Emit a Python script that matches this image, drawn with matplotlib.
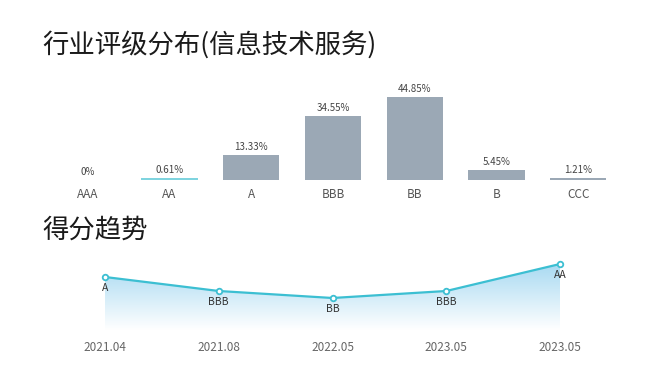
import numpy as np
import matplotlib
matplotlib.use("Agg")
import matplotlib.pyplot as plt
from matplotlib.colors import LinearSegmentedColormap
from matplotlib.path import Path
from matplotlib.patches import PathPatch

plt.rcParams['font.family'] = ['Noto Sans CJK SC', 'DejaVu Sans']

categories = ["AAA", "AA", "A", "BBB", "BB", "B", "CCC"]
shares = [0, 0.61, 13.33, 34.55, 44.85, 5.45, 1.21]
share_labels = ["0%", "0.61%", "13.33%", "34.55%", "44.85%", "5.45%", "1.21%"]
highlight = "AA"

dates = ["2021.04", "2021.08", "2022.05", "2023.05", "2023.05"]
ratings = ["A", "BBB", "BB", "BBB", "AA"]
scores = [53, 39, 32, 39, 66]

W, H = 668, 384
fig = plt.figure(figsize=(W/100, H/100), dpi=100)

def px_axes(x0, y0, x1, y1):
    return fig.add_axes([x0/W, 1 - y1/H, (x1-x0)/W, (y1-y0)/H])

fig.text(42/W, 1 - 45/H, "行业评级分布(信息技术服务)", fontsize=19, color="#1a1a1a",
         va="center", ha="left")
fig.text(42/W, 1 - 230/H, "得分趋势", fontsize=19, color="#1a1a1a",
         va="center", ha="left")

# Bar chart
ax = px_axes(47, 90, 619, 180)
x = np.arange(len(categories))
colors = ["#7fd4df" if c == highlight else "#9ba8b5" for c in categories]
heights = [max(v, 1.2) if 0 < v < 1.2 else v for v in shares]
ax.bar(x, heights, width=0.69, color=colors)
for xi, v, lab in zip(x, heights, share_labels):
    ax.text(xi, v + 1.6, lab, ha="center", va="bottom", fontsize=7, color="#444444")
ax.set_xlim(-0.5, len(categories) - 0.5)
ax.set_ylim(0, 90/1.85)
ax.set_xticks(x)
ax.set_xticklabels(categories, fontsize=8.5, color="#555555")
ax.tick_params(axis="x", length=0, pad=6)
ax.set_yticks([])
for s in ax.spines.values():
    s.set_visible(False)

# Line chart
ax2 = px_axes(105, 255, 560, 330)
xi = np.arange(len(dates))
ax2.set_xlim(0, len(dates) - 1)
ax2.set_ylim(0, 75)
cmap = LinearSegmentedColormap.from_list("g", ["#a9daf2", "#ffffff"])
grad = np.linspace(1, 0, 256).reshape(-1, 1)  # row0 (bottom) white, top blue
im = ax2.imshow(grad, cmap=cmap, vmin=0, vmax=1, aspect="auto",
                extent=[0, len(dates)-1, 0, max(scores)], origin="lower", zorder=1)
verts = [(0, 0)] + list(zip(xi, scores)) + [(len(dates)-1, 0), (0, 0)]
poly = PathPatch(Path(verts), transform=ax2.transData, facecolor="none", edgecolor="none")
ax2.add_patch(poly)
im.set_clip_path(poly)
ax2.set_xlim(0, len(dates) - 1)
ax2.set_ylim(0, 75)
ax2.plot(xi, scores, color="#3cbfd2", lw=1.6, zorder=3, clip_on=False)
ax2.plot(xi, scores, 'o', ms=4, mfc="white", mec="#3cbfd2", mew=1.3, zorder=4, clip_on=False)
for xx, s, r in zip(xi, scores, ratings):
    ax2.annotate(r, (xx, s), xytext=(0, -4), textcoords="offset points",
                 ha="center", va="top", fontsize=7.5, color="#333333", zorder=5)
ax2.set_xticks(xi)
ax2.set_xticklabels(dates, fontsize=8.5, color="#666666")
ax2.tick_params(axis="x", length=0, pad=8)
ax2.set_yticks([])
for s in ax2.spines.values():
    s.set_visible(False)

fig.savefig("out.png", dpi=100)
